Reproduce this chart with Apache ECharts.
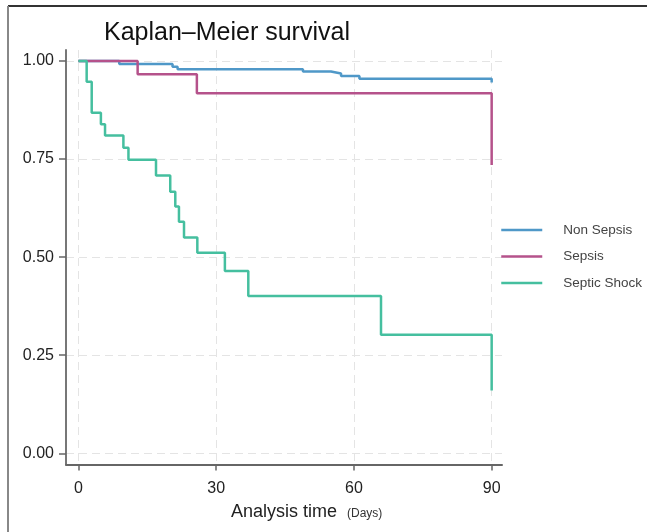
<!DOCTYPE html>
<html>
<head>
<meta charset="utf-8">
<script src="https://cdn.jsdelivr.net/npm/echarts@6.0.0/dist/echarts.min.js"></script>
<style>
html,body{margin:0;padding:0;background:#fff;}
#chart{width:647px;height:532px;}
</style>
</head>
<body>
<div id="chart"></div>
<script>
// ---- data ----
const seriesNames = ['Non Sepsis', 'Sepsis', 'Septic Shock'];
const nonSepsisDays = [0, 8.9, 20.5, 21.6, 48.9, 55, 57.2, 61.2, 90];
const nonSepsisSurv = [1, 0.992, 0.985, 0.979, 0.973, 0.968, 0.962, 0.955, 0.945];
const sepsisDays = [0, 12.9, 25.8, 90];
const sepsisSurv = [1, 0.966, 0.918, 0.735];
const shockDays = [0, 1.8, 2.9, 4.9, 5.8, 9.8, 10.9, 16.9, 20.0, 21.1, 21.9, 23.0, 25.9, 31.9, 37.0, 65.9, 90];
const shockSurv = [1, 0.947, 0.868, 0.839, 0.810, 0.779, 0.748, 0.708, 0.667, 0.629, 0.590, 0.550, 0.511, 0.465, 0.401, 0.302, 0.160];
const xTicks = [0, 30, 60, 90];
const yTicks = [0, 0.25, 0.5, 0.75, 1];

const colors = ['#4f98c8', '#b5528b', '#45bf9f'];
const FONT = '"Liberation Sans", Arial, sans-serif';

function pairs(xs, ys) { return xs.map((x, i) => [x, ys[i]]); }

const chart = echarts.init(document.getElementById('chart'), null, {renderer: 'canvas'});

const gridStyle = {show: true, lineStyle: {color: '#e4e4e4', width: 1, type: [8, 5]}};

const option = {
  animation: false,
  backgroundColor: '#fff',
  title: {
    text: 'Kaplan\u2013Meier survival',
    left: 104, top: 21, padding: 0,
    textStyle: {fontFamily: FONT, fontSize: 25, fontWeight: 'normal', color: '#111'}
  },
  legend: {
    orient: 'vertical',
    left: 500, top: 223, padding: 0,
    itemWidth: 41, itemHeight: 14, itemGap: 12.5,
    data: seriesNames,
    itemStyle: {opacity: 0},
    lineStyle: {width: 2.5},
    textStyle: {fontFamily: FONT, fontSize: 13.5, color: '#444', padding: [0, 0, 0, 16]}
  },
  grid: {left: 66, top: 50, width: 436, height: 414.5, containLabel: false},
  xAxis: {
    type: 'value', min: -2.7, max: 92.25,
    name: 'Analysis time', nameLocation: 'middle', nameGap: 39,
    nameTextStyle: {fontFamily: FONT, fontSize: 18, color: '#222'},
    axisLine: {show: true, onZero: false, lineStyle: {color: '#666', width: 2}},
    axisTick: {show: true, length: 6, customValues: xTicks, lineStyle: {color: '#666', width: 1.5}},
    axisLabel: {customValues: xTicks, margin: 16, fontFamily: FONT, fontSize: 16, color: '#222'},
    splitLine: gridStyle
  },
  yAxis: {
    type: 'value', min: -0.0285, max: 1.028,
    axisLine: {show: true, onZero: false, lineStyle: {color: '#777', width: 2}},
    axisTick: {show: true, length: 7, customValues: yTicks, lineStyle: {color: '#666', width: 1.5}},
    axisLabel: {customValues: yTicks, margin: 12, fontFamily: FONT, fontSize: 16, color: '#222',
      formatter: v => v.toFixed(2)},
    splitLine: gridStyle
  },
  series: [
    {name: seriesNames[0], type: 'line', step: 'end', symbol: 'none', data: pairs(nonSepsisDays, nonSepsisSurv),
      lineStyle: {color: colors[0], width: 2.5}, itemStyle: {color: colors[0]}},
    {name: seriesNames[1], type: 'line', step: 'end', symbol: 'none', data: pairs(sepsisDays, sepsisSurv),
      lineStyle: {color: colors[1], width: 2.5}, itemStyle: {color: colors[1]}},
    {name: seriesNames[2], type: 'line', step: 'end', symbol: 'none', data: pairs(shockDays, shockSurv),
      lineStyle: {color: colors[2], width: 2.5}, itemStyle: {color: colors[2]}}
  ],
  graphic: [
    {type: 'line', shape: {x1: 8, y1: 6, x2: 647, y2: 6}, style: {stroke: '#333', lineWidth: 2}},
    {type: 'line', shape: {x1: 8, y1: 6, x2: 8, y2: 532}, style: {stroke: '#888', lineWidth: 2}},
    {type: 'text', left: 347, top: 508,
      style: {text: '(Days)', font: '12px "Liberation Sans", Arial, sans-serif', fill: '#333'}}
  ]
};
chart.setOption(option);
</script>
</body>
</html>
